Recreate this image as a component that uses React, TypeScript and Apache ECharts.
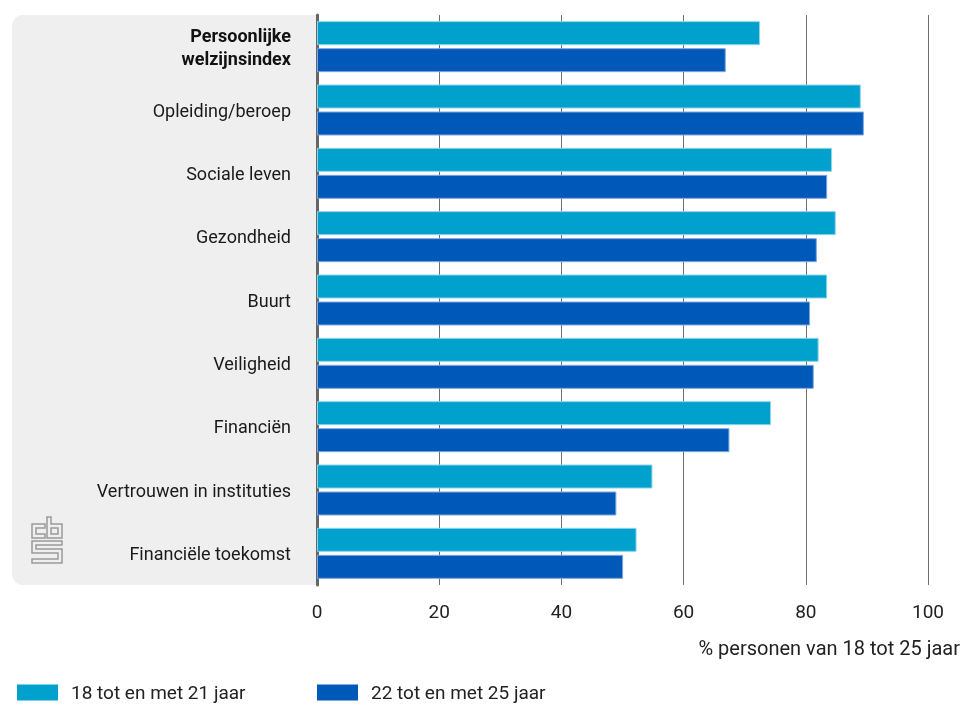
import React, { useEffect, useRef } from "react";
import * as echarts from "echarts";

const categories = [
  "Persoonlijke welzijnsindex",
  "Opleiding/beroep",
  "Sociale leven",
  "Gezondheid",
  "Buurt",
  "Veiligheid",
  "Financiën",
  "Vertrouwen in instituties",
  "Financiële toekomst",
];
const age18to21 = [72.5, 89.0, 84.3, 84.9, 83.5, 82.1, 74.3, 54.9, 52.3];
const age22to25 = [66.9, 89.5, 83.5, 81.8, 80.7, 81.3, 67.5, 49.0, 50.1];
const seriesNames = ["18 tot en met 21 jaar", "22 tot en met 25 jaar"];
const xTicks = { min: 0, max: 100, interval: 20 };
const axisName = "% personen van 18 tot 25 jaar";

const LIGHT = "#00a1cd";
const DARK = "#0058b8";
const FONT = "Roboto, 'Noto Sans', sans-serif";

const logoPath =
  "M45,524 H32 V538 H45 V534 H36 V528 H45 Z " +
  "M47,517 H51 V524 H62 V538 H47 Z M51,528 H58 V534 H51 Z " +
  "M62,541 H32 V553 H58 V559 H32 V563 H62 V549 H36 V545 H62 Z";

echarts.graphic.registerShape("cbslogo", echarts.graphic.extendPath(logoPath, {}));

export default function App() {
  const ref = useRef<HTMLDivElement>(null);
  useEffect(() => {
    if (!ref.current) return;
    const chart = echarts.init(ref.current, null, { renderer: "svg" });
    const legendCommon = {
      top: 678,
      icon: "rect",
      itemWidth: 41,
      itemHeight: 16,
      itemStyle: { borderWidth: 0 },
      textStyle: { fontFamily: FONT, fontSize: 19, color: "#222", padding: [0, 0, 0, 8] },
    };
    chart.setOption({
      animation: false,
      grid: { left: 317, right: 35, top: 15, bottom: 727 - 585, containLabel: false },
      graphic: [
        {
          type: "rect",
          z: -10,
          shape: { x: 12, y: 15, width: 304, height: 570, r: [11, 0, 0, 11] },
          style: { fill: "#efefef" },
        },
        {
          type: "cbslogo",
          z: -5,
          x: 0,
          y: 0,
          style: { fill: "none", stroke: "#9a9a9a", lineWidth: 1.5 },
        },
        {
          type: "text",
          x: 960,
          y: 648,
          style: {
            text: axisName,
            font: `20px ${FONT}`,
            fill: "#222",
            textAlign: "right",
            textVerticalAlign: "middle",
          },
        },
      ],
      legend: [
        { ...legendCommon, left: 12, data: [seriesNames[0]] },
        { ...legendCommon, left: 312, data: [seriesNames[1]] },
      ],
      xAxis: {
        type: "value",
        min: xTicks.min,
        max: xTicks.max,
        interval: xTicks.interval,
        axisLine: { show: false },
        axisTick: { show: false },
        axisLabel: { fontFamily: FONT, fontSize: 19, color: "#222", margin: 17 },
        splitLine: { show: true, lineStyle: { color: "#6e6e6e", width: 1 } },
      },
      yAxis: {
        type: "category",
        inverse: true,
        data: categories,
        axisLine: { show: true, lineStyle: { color: "#666", width: 3 } },
        axisTick: { show: false },
        axisLabel: {
          margin: 26,
          fontFamily: FONT,
          fontSize: 18,
          color: "#1a1a1a",
          formatter: (v: string, i: number) =>
            i === 0 ? "{b|Persoonlijke}\n{b|welzijnsindex}" : v,
          rich: {
            b: { fontFamily: FONT, fontSize: 18, fontWeight: "bold", color: "#111", lineHeight: 23 },
          },
        },
      },
      series: [
        {
          name: seriesNames[0],
          type: "bar",
          data: age18to21,
          barWidth: 24,
          barGap: "12.5%",
          itemStyle: { color: LIGHT, borderColor: "#8fd3ea", borderWidth: 1 },
        },
        {
          name: seriesNames[1],
          type: "bar",
          data: age22to25,
          barWidth: 24,
          barGap: "12.5%",
          itemStyle: { color: DARK, borderColor: "#7fa8dc", borderWidth: 1 },
        },
      ],
    });
    return () => chart.dispose();
  }, []);
  return (
    <div
      ref={ref}
      style={{ position: "fixed", left: 0, top: 0, width: 963, height: 727 }}
    />
  );
}
